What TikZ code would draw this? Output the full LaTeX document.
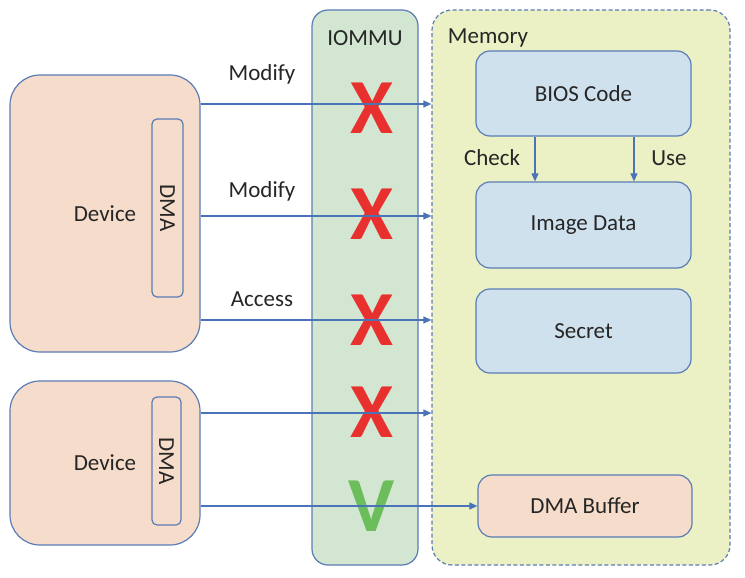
\documentclass[tikz,border=0pt]{standalone}
\usepackage{fontspec}
\setmainfont{Carlito}
\usetikzlibrary{arrows.meta,positioning}
\definecolor{edgeblue}{HTML}{5A7DB5}
\definecolor{linkblue}{HTML}{4A74BA}
\definecolor{peach}{HTML}{F6DCCA}
\definecolor{mintgreen}{HTML}{D3E6D2}
\definecolor{limewash}{HTML}{EBF1C4}
\definecolor{skyblue}{HTML}{D0E1EE}
\definecolor{crossred}{HTML}{E8302F}
\definecolor{tickgreen}{HTML}{6CBD5B}
\definecolor{inkgray}{HTML}{262626}
\tikzset{
  box/.style={rectangle, draw=edgeblue, line width=1.2pt, text=inkgray,
    font=\fontsize{23}{26}\selectfont, inner sep=0pt},
  devbox/.style={box, fill=peach, rounded corners=30pt, minimum width=190pt},
  dmabox/.style={box, fill=peach, rounded corners=5pt, rotate=-90},
  membox/.style={box, fill=skyblue, rounded corners=14pt,
    minimum width=215pt},
  lbl/.style={text=inkgray, font=\fontsize{23}{26}\selectfont, inner sep=0pt},
  link/.style={draw=linkblue, line width=1.1pt,
    -{Triangle[length=8pt, width=7pt]}},
  cross/.style={text=crossred, font=\fontsize{78}{80}\selectfont\bfseries,
    inner sep=0pt},
  tick/.style={text=tickgreen, font=\fontsize{78}{80}\selectfont\bfseries,
    inner sep=0pt}
}
\begin{document}
\begin{tikzpicture}[x=1pt, y=-1pt]
  \useasboundingbox (0,0) rectangle (745,578);
  % regions
  \node[box, fill=mintgreen, rounded corners=16pt, minimum width=106pt,
    minimum height=555pt] (iommu) at (365,287.5) {};
  \node[box, fill=limewash, dashed, dash pattern=on 4pt off 2.5pt,
    rounded corners=20pt, minimum width=298pt, minimum height=555pt]
    (mem) at (581,287.5) {};
  \node[lbl] (iommulbl) at (365,38) {IOMMU};
  \node[lbl] (memlbl) at (488,38) {Memory};
  % devices
  \node[devbox, minimum height=277pt] (dev1) at (105,213.5) {Device};
  \node[dmabox, minimum width=178pt, minimum height=31pt] (dma1)
    at (167.5,208) {DMA};
  \node[devbox, minimum height=164pt] (dev2) at (105,463) {Device};
  \node[dmabox, minimum width=128pt, minimum height=29pt] (dma2)
    at (166.5,461) {DMA};
  % memory regions
  \node[membox, minimum height=85pt] (bios) at (583.5,93.5) {BIOS Code};
  \node[membox, minimum height=86pt] (img) at (583.5,225) {Image Data};
  \node[membox, minimum height=84pt] (secret) at (583.5,331) {Secret};
  \node[membox, fill=peach, minimum width=214pt, minimum height=62pt]
    (buf) at (585,506) {DMA Buffer};
  % verdicts
  \node[cross] (x1) at (372,108) {X};
  \node[cross] (x2) at (372,214) {X};
  \node[cross] (x3) at (372,320) {X};
  \node[cross] (x4) at (372,412) {X};
  \node[tick] (v1) at (372,506) {V};
  % accesses
  \draw[link] (dev1.east |- 0,104) -- (mem.west |- 0,104);
  \draw[link] (dev1.east |- 0,216) -- (mem.west |- 0,216);
  \draw[link] (dev1.east |- 0,320) -- (mem.west |- 0,320);
  \draw[link] (dev2.east |- 0,413) -- (mem.west |- 0,413);
  \draw[link] (dev2.east |- buf.west) -- (buf.west);
  \node[lbl] (mod1) at (262,74) {Modify};
  \node[lbl] (mod2) at (262,191) {Modify};
  \node[lbl] (acc) at (262,299) {Access};
  % boot flow
  \draw[link] (bios.south -| 535,0) -- (img.north -| 535,0);
  \draw[link] (bios.south -| 634,0) -- (img.north -| 634,0);
  \node[lbl] (check) at (492,158) {Check};
  \node[lbl] (use) at (669,158) {Use};
\end{tikzpicture}
\end{document}
